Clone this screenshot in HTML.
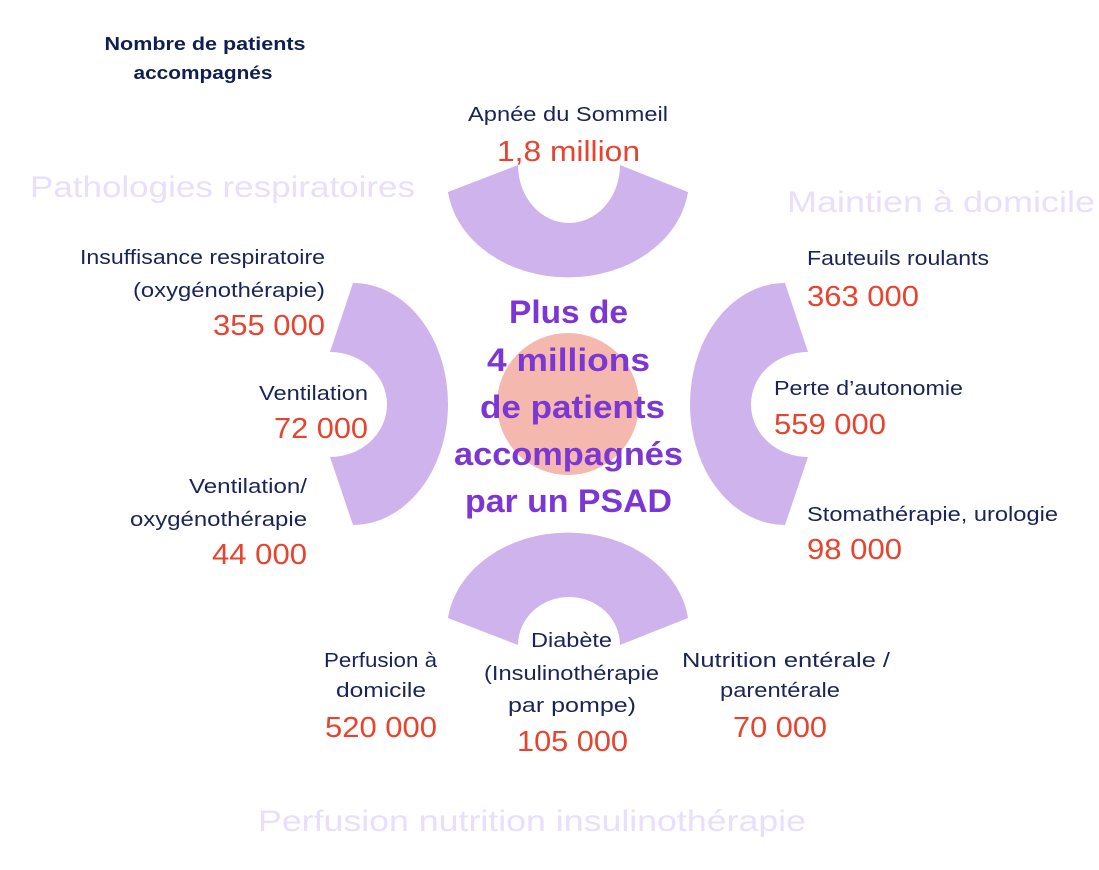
<!DOCTYPE html>
<html><head><meta charset="utf-8"><style>
html,body{margin:0;padding:0;background:#fff;}
svg{display:block;}
text{font-family:"Liberation Sans",sans-serif;}
.l{fill:#1a2456;font-size:20px;}
.n{fill:#e8432e;font-size:29px;}
.g{fill:#e9defb;font-size:30px;}
.c{fill:#7b36d4;font-size:32px;font-weight:bold;}
.t{fill:#0f1f52;font-size:18px;font-weight:bold;}
</style></head><body>
<svg width="1099" height="870" viewBox="0 0 1099 870" xmlns="http://www.w3.org/2000/svg">
<g fill="#cfb3ec">
<path d="M448,192 A121,98 0 0 0 688,192 L620,165 A51,58 0 0 1 518,165 Z"/>
<path d="M448,618 A121,98 0 0 1 688,618 L620,645 A51,48 0 0 0 518,645 Z"/>
<path d="M353,283 A95,121 0 0 1 353,525 L330,457 A57,52.5 0 0 0 330,352 Z"/>
<path d="M785,283 A95,121 0 0 0 785,525 L808,457 A57,52.5 0 0 1 808,352 Z"/>
</g>
<circle cx="568" cy="404" r="71" fill="#f5b8ae"/>

<text class="t" x="205" y="50" text-anchor="middle" textLength="201" lengthAdjust="spacingAndGlyphs">Nombre de patients</text>
<text class="t" x="203" y="79" text-anchor="middle" textLength="139" lengthAdjust="spacingAndGlyphs">accompagnés</text>

<text class="g" x="30" y="197" textLength="385" lengthAdjust="spacingAndGlyphs">Pathologies respiratoires</text>
<text class="g" x="787" y="212" textLength="308" lengthAdjust="spacingAndGlyphs">Maintien à domicile</text>
<text class="g" x="258" y="831" textLength="548" lengthAdjust="spacingAndGlyphs">Perfusion nutrition insulinothérapie</text>

<text class="l" x="468" y="121" textLength="200" lengthAdjust="spacingAndGlyphs">Apnée du Sommeil</text>
<text class="n" x="497" y="161" textLength="143" lengthAdjust="spacingAndGlyphs">1,8 million</text>

<text class="l" x="80" y="264" textLength="245" lengthAdjust="spacingAndGlyphs">Insuffisance respiratoire</text>
<text class="l" x="133" y="297" textLength="192" lengthAdjust="spacingAndGlyphs">(oxygénothérapie)</text>
<text class="n" x="213" y="335" textLength="112" lengthAdjust="spacingAndGlyphs">355 000</text>

<text class="l" x="259" y="400" textLength="109" lengthAdjust="spacingAndGlyphs">Ventilation</text>
<text class="n" x="274" y="438" textLength="94" lengthAdjust="spacingAndGlyphs">72 000</text>

<text class="l" x="189" y="493" textLength="118" lengthAdjust="spacingAndGlyphs">Ventilation/</text>
<text class="l" x="130" y="526" textLength="177" lengthAdjust="spacingAndGlyphs">oxygénothérapie</text>
<text class="n" x="212" y="564" textLength="95" lengthAdjust="spacingAndGlyphs">44 000</text>

<text class="l" x="807" y="265" textLength="182" lengthAdjust="spacingAndGlyphs">Fauteuils roulants</text>
<text class="n" x="807" y="306" textLength="112" lengthAdjust="spacingAndGlyphs">363 000</text>

<text class="l" x="774" y="395" textLength="189" lengthAdjust="spacingAndGlyphs">Perte d’autonomie</text>
<text class="n" x="774" y="434" textLength="112" lengthAdjust="spacingAndGlyphs">559 000</text>

<text class="l" x="807" y="521" textLength="251" lengthAdjust="spacingAndGlyphs">Stomathérapie, urologie</text>
<text class="n" x="807" y="559" textLength="95" lengthAdjust="spacingAndGlyphs">98 000</text>

<text class="l" x="324" y="667" textLength="113" lengthAdjust="spacingAndGlyphs">Perfusion à</text>
<text class="l" x="336" y="697" textLength="90" lengthAdjust="spacingAndGlyphs">domicile</text>
<text class="n" x="325" y="737" textLength="112" lengthAdjust="spacingAndGlyphs">520 000</text>

<text class="l" x="531" y="647" textLength="81" lengthAdjust="spacingAndGlyphs">Diabète</text>
<text class="l" x="484" y="680" textLength="175" lengthAdjust="spacingAndGlyphs">(Insulinothérapie</text>
<text class="l" x="508" y="712" textLength="128" lengthAdjust="spacingAndGlyphs">par pompe)</text>
<text class="n" x="517" y="751" textLength="111" lengthAdjust="spacingAndGlyphs">105 000</text>

<text class="l" x="682" y="667" textLength="208" lengthAdjust="spacingAndGlyphs">Nutrition entérale /</text>
<text class="l" x="720" y="697" textLength="120" lengthAdjust="spacingAndGlyphs">parentérale</text>
<text class="n" x="733" y="737" textLength="94" lengthAdjust="spacingAndGlyphs">70 000</text>

<text class="c" x="509" y="323" textLength="119" lengthAdjust="spacingAndGlyphs">Plus de</text>
<text class="c" x="487" y="371" textLength="163" lengthAdjust="spacingAndGlyphs">4 millions</text>
<text class="c" x="480" y="418" textLength="185" lengthAdjust="spacingAndGlyphs">de patients</text>
<text class="c" x="454" y="465" textLength="229" lengthAdjust="spacingAndGlyphs">accompagnés</text>
<text class="c" x="465" y="512" textLength="207" lengthAdjust="spacingAndGlyphs">par un PSAD</text>
</svg>
</body></html>
